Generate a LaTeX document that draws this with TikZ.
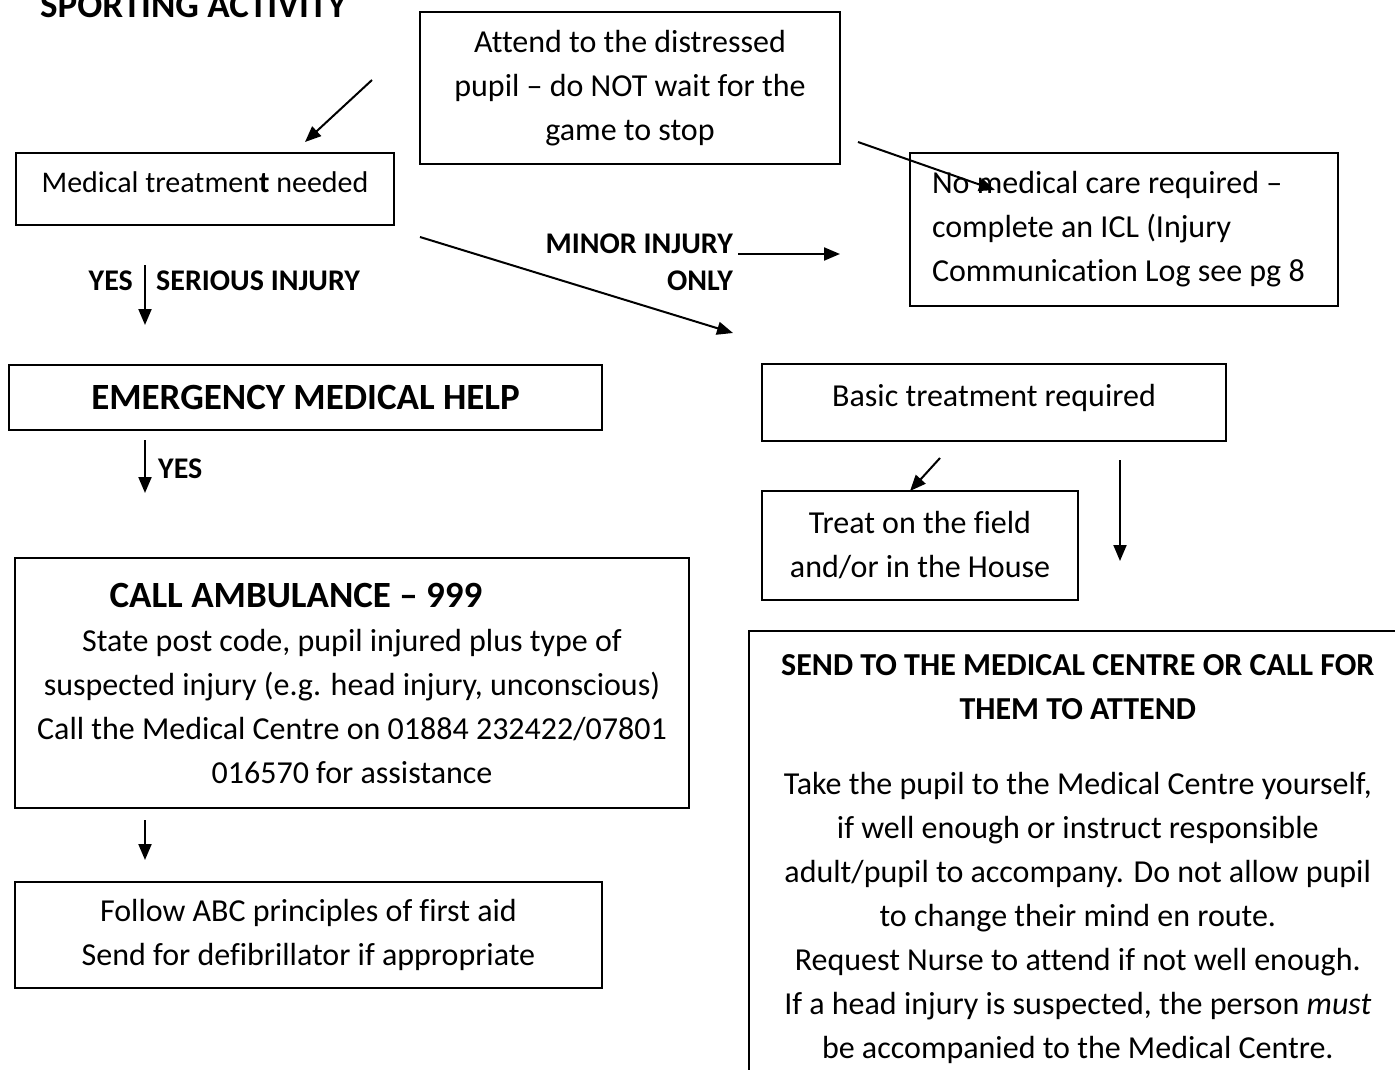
\documentclass[tikz,border=0pt]{standalone}
\usepackage{fontspec}
\setmainfont{Carlito}[Ligatures={NoCommon}]
\usetikzlibrary{arrows.meta}
\tikzset{
  box/.style={draw, line width=1.6pt, align=center, inner sep=0pt},
  txt/.style={font=\fontsize{32}{44}\selectfont},
  lbl/.style={font=\bfseries\fontsize{30}{37}\selectfont, inner sep=0pt},
  arr/.style={line width=2pt, -{Triangle[length=16pt,width=13pt]}}
}
\begin{document}
\begin{tikzpicture}[x=1pt,y=-1pt]
\useasboundingbox (0,0) rectangle (1395,1070);
% title
\node[anchor=base west, inner sep=0pt, font=\bfseries\fontsize{37}{40}\selectfont] (title) at (40,18) {SPORTING ACTIVITY};
% boxes
\node[box, txt, minimum width=420, minimum height=152] (attend) at (630,88)
  {Attend to the distressed\\pupil -- do NOT wait for the\\game to stop};
\node[box, font=\fontsize{30}{44}\selectfont, text height=20pt, text depth=12pt, minimum width=378, minimum height=72] (medtreat) at (205,189)
  {Medical treatmen\textbf{t} needed};
\node[box, txt, minimum width=428, minimum height=153, align=flush left, text width=384, inner xsep=22pt] (nocare) at (1124,229.5)
  {No medical care required --\\complete an ICL (Injury\\Communication Log see pg 8};
\node[box, font=\bfseries\fontsize{37}{40}\selectfont, minimum width=593, minimum height=65] (emerg) at (305.5,397.5)
  {EMERGENCY MEDICAL HELP};
\node[box, txt, text height=20pt, text depth=13pt, minimum width=464, minimum height=77] (basic) at (994,402.5)
  {Basic treatment required};
\node[box, txt, minimum width=316, minimum height=109] (treat) at (920,545.5)
  {Treat on the field\\and/or in the House};
\node[box, txt, minimum width=674, minimum height=250] (ambul) at (352,683)
  {\hspace*{-112pt}\textbf{\fontsize{37}{44}\selectfont CALL AMBULANCE -- 999}\\
   State post code, pupil injured plus type of\\
   suspected injury (e.g. head injury, unconscious)\\
   Call the Medical Centre on 01884 232422/07801\\
   016570 for assistance};
\node[box, txt, minimum width=587, minimum height=106] (abc) at (308.5,935)
  {Follow ABC principles of first aid\\Send for defibrillator if appropriate};
\node[box, txt, anchor=north west, minimum width=658, minimum height=456] (send) at (748,630)
  {\textbf{SEND TO THE MEDICAL CENTRE OR CALL FOR}\\
   \textbf{THEM TO ATTEND}\\[31pt]
   Take the pupil to the Medical Centre yourself,\\
   if well enough or instruct responsible\\
   adult/pupil to accompany. Do not allow pupil\\
   to change their mind en route.\\
   Request Nurse to attend if not well enough.\\
   If a head injury is suspected, the person \textit{must}\\
   be accompanied to the Medical Centre.};
% labels
\node[lbl, anchor=east] (yes1) at (133,281) {YES};
\node[lbl, anchor=west] (serious) at (156,281) {SERIOUS INJURY};
\node[lbl, anchor=north east, align=right] (minor) at (733,234) {MINOR INJURY\\ONLY};
\node[lbl, anchor=west] (yes2) at (158,469) {YES};
% arrow end points
\coordinate (a1s) at (372,80);   \coordinate (a1e) at (305,142);
\coordinate (a2s) at (858,142);  \coordinate (a2e) at (995,190);
\coordinate (a3s) at (420,237);  \coordinate (a3e) at (733,333);
\coordinate (a4s) at (738,254);  \coordinate (a4e) at (840,254);
\coordinate (a5s) at (145,265);  \coordinate (a5e) at (145,325);
\coordinate (a6s) at (145,440);  \coordinate (a6e) at (145,493);
\coordinate (a7s) at (145,820);  \coordinate (a7e) at (145,860);
\coordinate (a8s) at (940,458);  \coordinate (a8e) at (910,491);
\coordinate (a9s) at (1120,460); \coordinate (a9e) at (1120,561);
\foreach \i in {1,...,9} { \draw[arr] (a\i s) -- (a\i e); }
\end{tikzpicture}
\end{document}
